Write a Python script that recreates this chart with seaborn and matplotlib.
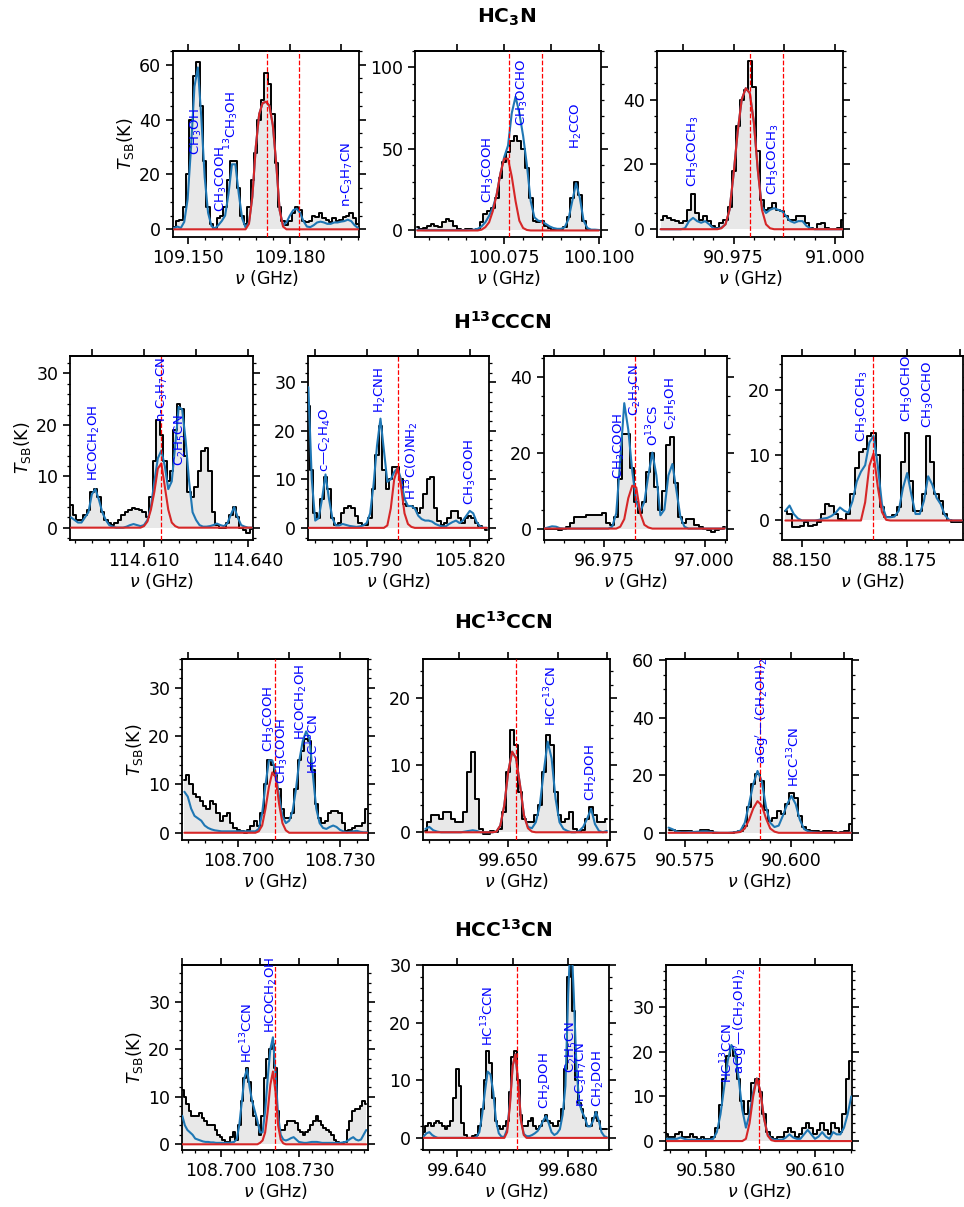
import numpy as np
import matplotlib
matplotlib.use("Agg")
import matplotlib.pyplot as plt
from matplotlib.ticker import AutoMinorLocator, FixedLocator, FormatStrFormatter, NullLocator, MultipleLocator
import seaborn as sns

sns.set_style("ticks", rc={"text.color": "black", "axes.labelcolor": "black",
                           "xtick.color": "black", "ytick.color": "black",
                           "axes.edgecolor": "black"})
plt.rcParams["font.family"] = ["DejaVu Sans"]
plt.rcParams["mathtext.fontset"] = "dejavusans"

################################################
#      Spectra (1 MHz channels, T_SB in K)
################################################
# HC3N row
a_f0 = 109.146
a_obs = [1, 3, 3.5, 8, 20, 40, 56, 61, 45, 25, 8, 2, 0.5, 4, 5, 8, 18, 25, 25, 15,
         5, 2, 8, 18, 28, 40, 47, 57, 53, 42, 24, 8, 3, 1.5, 3, 6, 8, 7, 3, 2.5,
         3, 5, 4.5, 6, 4, 3.5, 2.5, 4, 3, 3.5, 4.5, 5, 6, 4, 2]
a_model = [0.5, 1, 0.5, 2.7, 11, 30, 52, 59, 41, 19, 6, 1.2, 0.3, 1.5, 3, 5, 13, 23.7, 23.7, 13,
           4, 0.7, 2.5, 12, 30, 42, 46, 46.5, 45, 38, 24, 7, 1.5, 2.5, 5, 7, 7.5, 6, 3, 1,
           0.8, 1.5, 2.5, 2.8, 2.5, 2, 2, 2.5, 2.5, 2.8, 3, 3.5, 3, 1.5, 0.5]
a_species = [0] * 22 + [2, 12, 30, 42, 46, 46.5, 45, 38, 24, 7, 1] + [0] * 22

b_f0 = 100.052
b_obs = [2, 1, 1.5, 3, 4, 2.5, 2, 5, 7, 6, 2.5, 1, 0.5, 1, 1, 0.5, 1, 5, 10, 12,
         14, 20, 32, 42, 48, 55, 58, 55, 50, 38, 20, 6, 5, 6, 3, 1.5, 0.5, 0.5, 1, 2,
         8, 20, 30, 22, 6, 1, 0, 0.5, 0]
b_model = [0.5, 0.3, 0.2, 0.2, 0.2, 0.2, 0.2, 0.2, 0.2, 0.2, 0.2, 0.2, 0.2, 0.2, 0.3, 0.5, 1, 2.5, 5, 9,
           14, 22, 35, 45, 52, 72, 82, 72, 58, 40, 18, 8, 6, 5.5, 4, 2.5, 1.5, 1, 1, 2,
           7, 18, 29, 20, 6, 1.5, 0.5, 0.5, 0.3]
b_species = [0] * 17 + [0.5, 2, 5, 12, 22, 35, 44, 44, 33, 18, 6, 1.5, 0.3] + [0] * 19

c_f0 = 90.957
c_obs = [3, 4, 3.5, 3, 2.5, 2, 2.5, 6, 11, 5, 3, 4, 2.5, 1, 0.5, 2, 3, 7, 18, 32,
         40, 43, 52, 44, 24, 9, 6, 6.5, 8, 6, 5.5, 4, 3, 3, 4, 4, 2, 0.5, 0, 1.5,
         2, 0.5, 0, 0, 0.5, 3]
c_model = [0, 0, 0, 0, 0, 0, 0.3, 2.5, 3.5, 2.5, 2, 2.5, 1.5, 0.3, 0.2, 0.5, 1.5, 6, 17, 30,
           40, 43.5, 42, 33, 18, 7, 5, 6, 6.5, 6, 5.5, 4, 2.5, 2, 2.5, 2.5, 1, 0.3, 0, 0,
           0, 0, 0, 0, 0, 0]
c_species = [0] * 15 + [0.3, 1.5, 6, 17, 30, 40, 43.5, 42, 33, 18, 6, 1.5, 0.3] + [0] * 18

# H13CCCN row
d_f0 = 114.589
d_obs = [4.5, 2.5, 1.5, 1.5, 2.5, 3.5, 7, 7.5, 6, 3, 1.5, 1, 0.5, 1, 1.5, 2.5, 3, 3.5, 3.8, 3.7,
         3.5, 3, 2, 6, 13, 21, 18, 13, 9, 11, 19, 24, 23, 14, 7, 6, 8, 11, 15, 15.5,
         11, 3, 0.5, 0, 0, 1, 2.5, 4, 2, 0, -0.5, -1, -0.3]
d_model = [2, 1.5, 1, 1, 2, 3, 6.5, 7.5, 5.5, 3, 1.5, 0.5, 0.2, 0, 0, 0, 0.2, 0.5, 0.7, 0.5,
           0.3, 0.5, 1.5, 4, 9, 13.5, 15, 12, 7.5, 9, 16, 23.5, 23, 17, 9, 3, 1.5, 0.5, 0.2, 0.2,
           0.3, 0.5, 0.8, 0.5, 0.3, 0.8, 2.5, 4, 2, 0.5, 0.2, 0, 0]
d_species = [0] * 21 + [0.3, 1.2, 3.5, 7, 11.5, 12.5, 8, 3.5, 1, 0.3] + [0] * 22

e_f0 = 105.773
e_obs = [25, 12, 3, 2, 6, 10.5, 8, 2, 0.5, 1, 3, 4, 4.5, 4, 2.5, 1, 0.5, 0.5, 2, 8,
         15, 21, 12, 8, 10, 12.5, 12.5, 10, 5, 4.5, 4.5, 4, 3, 4, 7, 10, 10.5, 4, 1.5, 0.5,
         1, 2, 3.5, 3.5, 2, 1, 2, 2.5, 2, 1, 0.3, 0, -0.5]
e_model = [29, 10, 1.5, 2, 6, 11, 6, 2, 0.5, 0.5, 0.8, 0.6, 0.4, 0.3, 0.2, 0.3, 0.5, 1, 3, 9,
           17, 22.5, 16, 9.5, 10, 11.5, 12.3, 10, 6, 4.5, 4.5, 4, 2.5, 1.8, 1.5, 1.5, 1.3, 0.8, 0.5, 0.3,
           0.3, 0.8, 1.2, 1.5, 1, 1.5, 2.5, 3.5, 3, 1.2, 0.3, 0, 0]
e_species = [0] * 23 + [0.5, 4, 10, 12.3, 8.5, 3, 0.8, 0.2] + [0] * 22

f_f0 = 96.960
f_obs = [0, 0, 0, -0.2, -0.3, -0.2, 0.5, 1.5, 3, 3, 3, 3.5, 3.5, 3.5, 3.5, 4, 1.5, 1, 3, 13,
         25, 25, 16, 7, 4, 7, 15, 20, 11, 5, 10, 22, 24, 12, 3, 1.5, 2.5, 2.5, 1, 0.5,
         0, -0.5, -1, -0.5, 0, 0.3]
f_model = [0, 0.3, 0.6, 0.5, 0.1, 0, 0, 0, 0, 0, 0, 0, 0, 0, 0, 0, 0, 0.5, 4, 18,
           33, 26, 15, 7, 4.5, 7, 14, 20, 14, 3.5, 5, 14, 17, 10, 3, 0.5, 0, 0, 0, 0,
           0, 0, 0, 0, 0, 0]
f_species = [0] * 19 + [0.5, 2.5, 8, 11.3, 10.8, 4, 1, 0.3] + [0] * 19

g_f0 = 88.146
g_obs = [1.5, 1, -1, -1, -0.8, -0.3, -0.8, -0.7, -0.3, 1, 2.5, 2.2, 1, 0.3, 0, 1, 4, 8, 10.5, 11,
         13, 13.5, 10, 2, 0.5, 0.5, 0.8, 2, 9, 13.5, 6, 1.5, 1.5, 4, 13, 9, 4, 3, 1, 0,
         -0.2, -0.2, -0.2]
g_model = [1.5, 2.3, 1, 0.3, 0, 0, 0, 0, 0.1, 0.3, 0.4, 0.7, 1.2, 2, 1.5, 1.2, 3, 6, 7.5, 8.5,
           12, 13, 8.5, 2.5, 0.5, 0.5, 0.6, 1.5, 5, 7.3, 4, 1, 1, 3, 6.8, 5.5, 3.5, 2.5, 0.8, 0.1,
           0, 0, 0]
g_species = [0] * 19 + [2.8, 8.4, 10.3, 5.2, 1.3, 0.1] + [0] * 18

# HC13CCN row
h_f0 = 108.684
h_obs = [11, 12, 10, 8, 7.5, 6.5, 5.5, 5, 6.5, 6, 4, 2.5, 3.5, 4, 2, 1, 0.5, 0.3, 0, 0.5,
         1.5, 2.5, 1.5, 4, 10, 15, 14, 12, 9, 5, 3, 3, 4, 9, 15, 17, 19.5, 19, 13, 6,
         3, 2, 2.5, 4, 4.5, 4.5, 4, 2, 0.3, 0.5, 1, 1.5, 1.5, 2, 5]
h_model = [8.5, 7.5, 5, 3.5, 3, 2.5, 1.5, 1, 0.7, 0.5, 0.4, 0.3, 0.3, 0.3, 0.3, 0.3, 0.3, 0.3, 0.3, 0.3,
           0.3, 0.3, 0.8, 4, 10, 15, 15, 12.5, 7.5, 3.5, 2, 2.5, 4.5, 9, 15, 19, 21, 19.5, 12, 5,
           2, 1, 0.8, 1.2, 1.5, 1.2, 0.6, 0.3, 0.1, 0.2, 0.3, 0.4, 0.2, 0.1, 0.1]
h_species = [0] * 22 + [0.3, 1.5, 5, 9.5, 12.5, 11.5, 6, 2, 0.5] + [0] * 24

i_f0 = 99.629
i_obs = [0.2, 1.5, 2.5, 2.5, 2, 3, 3, 2, 1.5, 1.5, 3, 9, 12, 5, 0.5, -0.3, -0.2, 0.2, 0, 0.5,
         3, 9, 15.3, 13, 6, 2, 1.5, 1.5, 2.5, 4, 9, 14.5, 13, 6, 2.5, 1.5, 2, 3, 0.5, 0,
         0.3, 2, 3.8, 2.5, 1.5, 1.5, 2]
i_model = [0.5, 0.8, 0.3, 0.1, 0, 0, 0, 0, 0, 0, 0.1, 0.2, 0.3, 0.2, 0, 0, 0, 0, 0.1, 1,
           4, 9, 12, 11, 7, 2.5, 0.8, 0.6, 1.5, 4, 9, 13.5, 11, 5, 1.5, 0.5, 0.2, 0, 0, 0.2,
           0.8, 2, 3.5, 1.2, 0.2, 0, 0.2]
i_species = [0] * 18 + [0.1, 1, 4, 9, 12, 11, 7, 2.5, 0.6, 0.1] + [0] * 19

j_f0 = 90.571
j_obs = [1, 1, 0.5, 0.5, 0.5, 0.5, 0.3, 0.3, 1, 1, 0.5, 0, 0, 0, 0, 0, 0.3, 0.5, 2.5, 9,
         17, 20.5, 18, 8, 4, 5, 7.5, 6.5, 10, 14, 12, 6, 2, 1, 0.5, 0.5, 0.3, 0.5, 0.5, 0.3,
         0, 0.3, 0.5, 3]
j_model = [1.8, 1.2, 0.4, 0.2, 0.2, 0.3, 0.3, 0.4, 0.5, 0.5, 0.3, 0.1, 0, 0, 0, 0.1, 0.3, 0.8, 3.5, 10,
           17, 21.5, 18, 9, 3.5, 2, 2.5, 6, 10, 12.8, 10, 4.5, 1.3, 0.5, 0.2, 0.1, 0, 0, 0, 0,
           0, 0, 0, 0]
j_species = [0] * 16 + [0.1, 0.3, 1.5, 4.5, 8.5, 11, 9.5, 5, 1.5, 0.4] + [0] * 18

# HCC13CN row
k_f0 = 108.685
k_obs = [11.5, 10, 8.5, 7, 6, 6, 6, 6.5, 5.5, 5, 4, 4, 4, 3, 2, 1.5, 1, 0.5, 0.5, 1.5,
         2.5, 1, 4, 9, 14, 16, 13, 9, 6, 4, 2, 6, 14, 18, 20, 21, 16, 7, 3, 3,
         4, 5, 5, 5, 4.5, 3, 2.5, 2, 2.5, 3, 4, 5, 6, 5, 4, 3.5, 3, 2.5, 2, 1,
         0.5, 0, 0.3, 0.5, 3, 5, 7, 7.5, 7.5, 8, 9, 8.5]
k_model = [6, 4, 3, 2.5, 2, 1.2, 1, 0.8, 0.6, 0.5, 0.5, 0.4, 0.4, 0.3, 0.3, 0.3, 0.3, 0.3, 0.3, 0.4,
           0.5, 1, 4, 9, 14, 15.8, 12, 9, 7, 5, 2.5, 2.5, 7, 14, 20, 22.5, 15, 6, 2, 1,
           0.8, 1, 1.3, 1.5, 1, 0.5, 0.4, 0.3, 0.3, 0.4, 0.5, 0.5, 0.5, 0.4, 0.3, 0.3, 0.3, 0.3, 0.3, 0.3,
           0.3, 0.3, 0.4, 0.5, 0.8, 1.2, 1.5, 1, 0.8, 1, 2, 3]
k_species = [0] * 30 + [0.3, 0.8, 2.5, 7, 12.5, 15.3, 11, 4, 1, 0.2] + [0] * 32

l_f0 = 99.628
l_obs = [1, 2, 2.5, 2, 2.5, 3, 2.5, 2, 1.5, 2, 3, 7, 12, 9, 2.5, 0.5, 0, 0, 0.3, 0.5,
         2, 5, 10, 15, 13, 7, 3, 2, 1.5, 2, 3, 8, 14, 15, 10, 4, 2, 2, 3, 3.5,
         2, 1.5, 2, 3, 4, 3, 2.5, 2, 2, 3, 5, 12, 28, 38, 22, 10, 6, 5, 3.5, 2,
         2, 3.5, 4.5, 3, 1.5, 1.5, 1.5]
l_model = [0.3, 0.8, 1, 0.5, 0.2, 0, 0, 0, 0, 0, 0, 0, 0, 0, 0, 0, 0, 0, 0, 0.2,
           1, 4, 8, 11.5, 11, 8, 3, 0.8, 0.2, 0.2, 1.5, 6, 12.5, 14.5, 9.5, 3, 0.7, 0.3, 0.3, 0.5,
           0.8, 1.2, 2, 3, 3.8, 2.5, 1, 0.5, 0.8, 1.5, 4, 9, 25, 36, 25, 12, 6, 4.5, 3.5, 2,
           2, 3, 4.5, 3, 1, 0.3, 0.1]
l_species = [0] * 29 + [0, 1, 5.5, 12.5, 14.5, 9.5, 3, 0.5] + [0] * 30

m_f0 = 90.569
m_obs = [1.5, 1, 1, 1.5, 2, 1, 1, 1.5, 1, 0.5, 1, 0.5, 0.5, 1, 3, 8, 14, 19, 21, 19,
         14, 9, 6, 9, 13, 14, 11, 6, 2, 1, 0.5, 1, 1, 2, 3, 2, 1, 1.5, 3, 4,
         3, 1.5, 2.5, 4, 2.5, 1.5, 4, 3, 2, 6, 14, 18]
m_model = [0.5, 0.5, 0.5, 0.5, 0.8, 0.5, 0.3, 0.3, 0.3, 0.3, 0.3, 0.3, 0.3, 0.5, 2, 6, 12, 18, 21.5, 20,
           14, 7, 3, 6, 11, 14, 11, 5, 1.5, 0.5, 0.3, 0.3, 0.3, 0.8, 1.5, 0.8, 0.5, 0.5, 1.5, 2.5,
           1.5, 0.5, 1, 2, 1, 0.5, 2, 1.5, 1.5, 3, 6, 10]
m_species = [0] * 22 + [0.5, 4, 10, 14, 11, 5, 1.2, 0.2] + [0] * 22

################################################
#      Line markers and identifications
################################################
a_vlines = [109.1733, 109.1828]
a_labels = [(r"CH$_3$OH", 109.1527, 27), (r"CH$_3$COOH", 109.1598, 6.3),
            (r"$^{13}$CH$_3$OH", 109.1628, 29), (r"n-C$_3$H$_7$CN", 109.1969, 8)]
b_vlines = [100.0763, 100.0849]
b_labels = [(r"CH$_3$COOH", 100.0708, 17), (r"CH$_3$OCHO", 100.0799, 64),
            (r"H$_2$CCO", 100.0941, 50)]
c_vlines = [90.9791, 90.9871]
c_labels = [(r"CH$_3$COCH$_3$", 90.9652, 13), (r"CH$_3$COCH$_3$", 90.9848, 10.5)]
d_vlines = [114.6149]
d_labels = [(r"HCOCH$_2$OH", 114.5957, 9), (r"n-C$_3$H$_7$CN", 114.6154, 20.6),
            (r"C$_2$H$_5$CN", 114.6204, 12)]
e_vlines = [105.7992]
e_labels = [(r"c—C$_2$H$_4$O", 105.7781, 11.5), (r"H$_2$CNH", 105.7939, 23.6),
            (r"H$^{13}$C(O)NH$_2$", 105.8031, 5.7), (r"CH$_3$COOH", 105.8202, 4.7)]
f_vlines = [96.9827]
f_labels = [(r"CH$_3$COOH", 96.9789, 13), (r"C$_2$H$_3$CN", 96.9828, 29.5),
            (r"O$^{13}$CS", 96.9871, 21.6), (r"C$_2$H$_5$OH", 96.9918, 26)]
g_vlines = [88.1669]
g_labels = [(r"CH$_3$COCH$_3$", 88.1643, 12), (r"CH$_3$OCHO", 88.1750, 15.2),
            (r"CH$_3$OCHO", 88.1800, 14.3)]
h_vlines = [108.7108]
h_labels = [(r"CH$_3$COOH", 108.7093, 16.8), (r"CH$_3$COOH", 108.7131, 10.2),
            (r"HCOCH$_2$OH", 108.7187, 19.2), (r"HCC$^{13}$CN", 108.7221, 12.2)]
i_vlines = [99.6519]
i_labels = [(r"HCC$^{13}$CN", 99.6608, 15.8), (r"CH$_2$DOH", 99.6710, 4.7)]
j_vlines = [90.5925]
j_labels = [(r"aGg$'$—(CH$_2$OH)$_2$", 90.5931, 23.8), (r"HCC$^{13}$CN", 90.6006, 15.9)]
k_vlines = [108.7208]
k_labels = [(r"HC$^{13}$CCN", 108.7099, 17), (r"HCOCH$_2$OH", 108.7195, 23.5)]
l_vlines = [99.6616]
l_labels = [(r"HC$^{13}$CCN", 99.6512, 16), (r"CH$_2$DOH", 99.6718, 5),
            (r"C$_2$H$_5$CN", 99.6812, 11.3), (r"n-C$_3$H$_7$CN", 99.6848, 5.3),
            (r"CH$_2$DOH", 99.6908, 5.3)]
m_vlines = [90.5946]
m_labels = [(r"HC$^{13}$CCN", 90.5858, 13), (r"aGg$'$—(CH$_2$OH)$_2$", 90.5894, 15)]

# axis ranges, labelled ticks and unlabelled top ticks
a_xlim, a_ylim, a_xt, a_yt = (109.1457, 109.2003), (-2.8, 65), [109.150, 109.180], [0, 20, 40, 60]
b_xlim, b_ylim, b_xt, b_yt = (100.0514, 100.1006), (-4, 110), [100.075, 100.100], [0, 50, 100]
c_xlim, c_ylim, c_xt, c_yt = (90.9561, 91.0020), (-2.4, 55), [90.975, 91.000], [0, 20, 40]
d_xlim, d_ylim, d_xt, d_yt = (114.5887, 114.6414), (-2.4, 33.4), [114.610, 114.640], [0, 10, 20, 30]
e_xlim, e_ylim, e_xt, e_yt = (105.7729, 105.8256), (-2.5, 35.4), [105.790, 105.820], [0, 10, 20, 30]
f_xlim, f_ylim, f_xt, f_yt = (96.9600, 97.0056), (-3, 45.4), [96.975, 97.000], [0, 20, 40]
g_xlim, g_ylim, g_xt, g_yt = (88.1452, 88.1883), (-3, 25.3), [88.150, 88.175], [0, 10, 20]
h_xlim, h_ylim, h_xt, h_yt = (108.6833, 108.7383), (-1.5, 36), [108.700, 108.730], [0, 10, 20, 30]
i_xlim, i_ylim, i_xt, i_yt = (99.6284, 99.6758), (-1.15, 25.8), [99.650, 99.675], [0, 10, 20]
j_xlim, j_ylim, j_xt, j_yt = (90.5704, 90.6143), (-2.5, 60.4), [90.575, 90.600], [0, 20, 40, 60]
k_xlim, k_ylim, k_xt, k_yt = (108.6849, 108.7567), (-1.2, 37.7), [108.700, 108.730], [0, 10, 20, 30]
l_xlim, l_ylim, l_xt, l_yt = (99.6277, 99.6947), (-2.1, 30), [99.640, 99.680], [0, 10, 20, 30]
m_xlim, m_ylim, m_xt, m_yt = (90.5690, 90.6202), (-2, 39.4), [90.580, 90.610], [0, 10, 20, 30]

a_top = [109.150, 109.165, 109.180, 109.195]
b_top = [100.0625, 100.075, 100.0875, 100.100]
c_top = [90.9625, 90.975, 90.9875, 91.000]
d_top = [114.595, 114.610, 114.625, 114.640]
e_top = [105.775, 105.790, 105.805, 105.820]
f_top = [96.9625, 96.975, 96.9875, 97.000]
g_top = [88.150, 88.1625, 88.175, 88.1875]
h_top = [108.685, 108.700, 108.715, 108.730]
i_top = [99.6375, 99.650, 99.6625, 99.675]
j_top = [90.575, 90.5875, 90.600, 90.6125]
k_top = [108.685, 108.700, 108.715, 108.730, 108.745]
l_top = [99.640, 99.660, 99.680]
m_top = [90.580, 90.595, 90.610]

row_titles = [r"HC$_\mathbf{3}$N", r"H$^\mathbf{13}$CCCN", r"HC$^\mathbf{13}$CCN", r"HCC$^\mathbf{13}$CN"]

################################################
#                 Figure layout
################################################
FIG_W, FIG_H = 964, 1207
fig = plt.figure(figsize=(FIG_W / 100, FIG_H / 100), dpi=100)

# panel boxes in pixels (left, top, right, bottom)
boxes = {
    "a": (173, 51, 359, 237), "b": (415, 51, 601, 237), "c": (657, 51, 843, 237),
    "d": (70, 356, 253, 540), "e": (308, 356, 489, 540), "f": (544, 356, 727, 540),
    "g": (782, 356, 963, 540),
    "h": (182, 659, 368, 840), "i": (423, 659, 610, 840), "j": (666, 659, 852, 840),
    "k": (182, 965, 368, 1150), "l": (423, 965, 609, 1150), "m": (666, 965, 852, 1150),
}
first_in_row = ["a", "d", "h", "k"]
title_pos = [(507, 17), (502, 322), (503, 622), (503, 930)]

g = globals()


def draw_panel(key):
    l, t, r, b = boxes[key]
    ax = fig.add_axes([l / FIG_W, 1 - b / FIG_H, (r - l) / FIG_W, (b - t) / FIG_H])
    obs = np.array(g[key + "_obs"], dtype=float)
    freq = g[key + "_f0"] + 0.001 * np.arange(len(obs))

    ax.fill_between(freq, obs, 0, step="mid", color="#e8e8e8", lw=0, zorder=1)
    sns.lineplot(x=freq, y=obs, drawstyle="steps-mid", color="black", lw=1.4, ax=ax, zorder=2)
    sns.lineplot(x=freq, y=g[key + "_model"], color="#1f77b4", lw=1.5, ax=ax, zorder=3)
    sns.lineplot(x=freq, y=g[key + "_species"], color="#d62728", lw=1.5, ax=ax, zorder=4)
    for v in g[key + "_vlines"]:
        ax.axvline(v, color="red", ls="--", lw=0.9, zorder=5)
    for txt, x, y in g[key + "_labels"]:
        ax.text(x, y, txt, rotation=90, ha="center", va="bottom", color="blue",
                fontsize=9.5, zorder=6)

    ax.set_xlim(g[key + "_xlim"])
    ax.set_ylim(g[key + "_ylim"])
    ax.xaxis.set_major_locator(FixedLocator(g[key + "_xt"]))
    ax.xaxis.set_major_formatter(FormatStrFormatter("%.3f"))
    ax.xaxis.set_minor_locator(MultipleLocator(0.005))
    ax.yaxis.set_major_locator(FixedLocator(g[key + "_yt"]))
    ax.yaxis.set_minor_locator(AutoMinorLocator())
    ax.tick_params(which="both", direction="out", top=False, right=True, labelsize=12.5,
                   colors="black")
    ax.tick_params(which="major", length=5, width=1.2)
    ax.tick_params(which="minor", length=2.5, width=0.9)
    for s in ax.spines.values():
        s.set_linewidth(1.3)
        s.set_color("black")
    ax.set_xlabel(r"$\nu$ (GHz)", fontsize=12.5, labelpad=1, color="black")
    if key in first_in_row:
        ax.set_ylabel(r"$T_{\rm SB}$(K)", fontsize=12.5, labelpad=2, color="black")
    else:
        ax.set_ylabel("")

    # separate unlabelled tick row along the top spine
    top = ax.secondary_xaxis("top")
    top.xaxis.set_major_locator(FixedLocator(g[key + "_top"]))
    top.xaxis.set_minor_locator(NullLocator())
    top.tick_params(which="major", direction="out", length=5, width=1.2, labeltop=False)
    top.spines["top"].set_linewidth(1.3)
    return ax


for key in boxes:
    draw_panel(key)

for txt, (x, y) in zip(row_titles, title_pos):
    fig.text(x / FIG_W, 1 - y / FIG_H, txt, ha="center", va="center",
             fontsize=14.5, fontweight="bold", color="black")

fig.savefig("out.png", dpi=100)
